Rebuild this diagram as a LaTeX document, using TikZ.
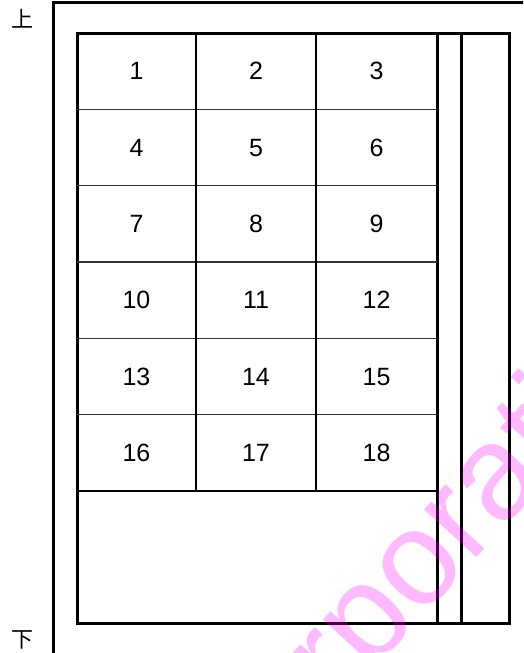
\documentclass[tikz,border=0pt]{standalone}
\usepackage{fontspec}
\setmainfont{Liberation Sans}
\newfontfamily\cjk{Noto Sans CJK SC}
\definecolor{wmpink}{RGB}{255,0,255}
\begin{document}
\begin{tikzpicture}[x=1pt,y=-1pt,
  frame/.style={line width=3pt},
  rowline/.style={line width=1.1pt, black!80},
  colline/.style={line width=1.5pt},
  num/.style={font=\fontsize{25}{25}\selectfont, inner sep=0pt},
  side/.style={font=\cjk\fontsize{22}{22}\selectfont, inner sep=0pt}]
\useasboundingbox (0,0) rectangle (523,653);
\begin{scope}
\clip (0,0) rectangle (523,653);
% outer frame
\draw[frame] (53,660) -- (53,2.5) -- (530,2.5);
% inner frame
\draw[frame] (77,33) rectangle (509,623);
\draw[frame] (437,33) -- (437,623);
\draw[frame] (461,33) -- (461,623);
% grid
\foreach \i in {1,...,5} {
  \draw[rowline] (77,{33+\i*76.33}) -- (437,{33+\i*76.33});
}
\draw[line width=2pt] (77,491) -- (437,491);
\draw[colline] (196,33) -- (196,491);
\draw[colline] (316,33) -- (316,491);
% numbers
\foreach \r in {0,...,5} {
  \foreach \c/\x in {1/136.5,2/256,3/376.5} {
    \pgfmathtruncatemacro{\n}{\r*3+\c}
    \node[num] (n\n) at (\x,{71.2+\r*76.33}) {\n};
  }
}
\node[side] (top) at (22,19) {上};
\node[side] (bottom) at (23,640) {下};
% watermark
\node[anchor=base west, rotate=47.5, text=wmpink, opacity=0.27, inner sep=0pt,
  font=\fontsize{134}{134}\selectfont] (wm) at (224,834) {Corporation};
\end{scope}
\end{tikzpicture}
\end{document}
